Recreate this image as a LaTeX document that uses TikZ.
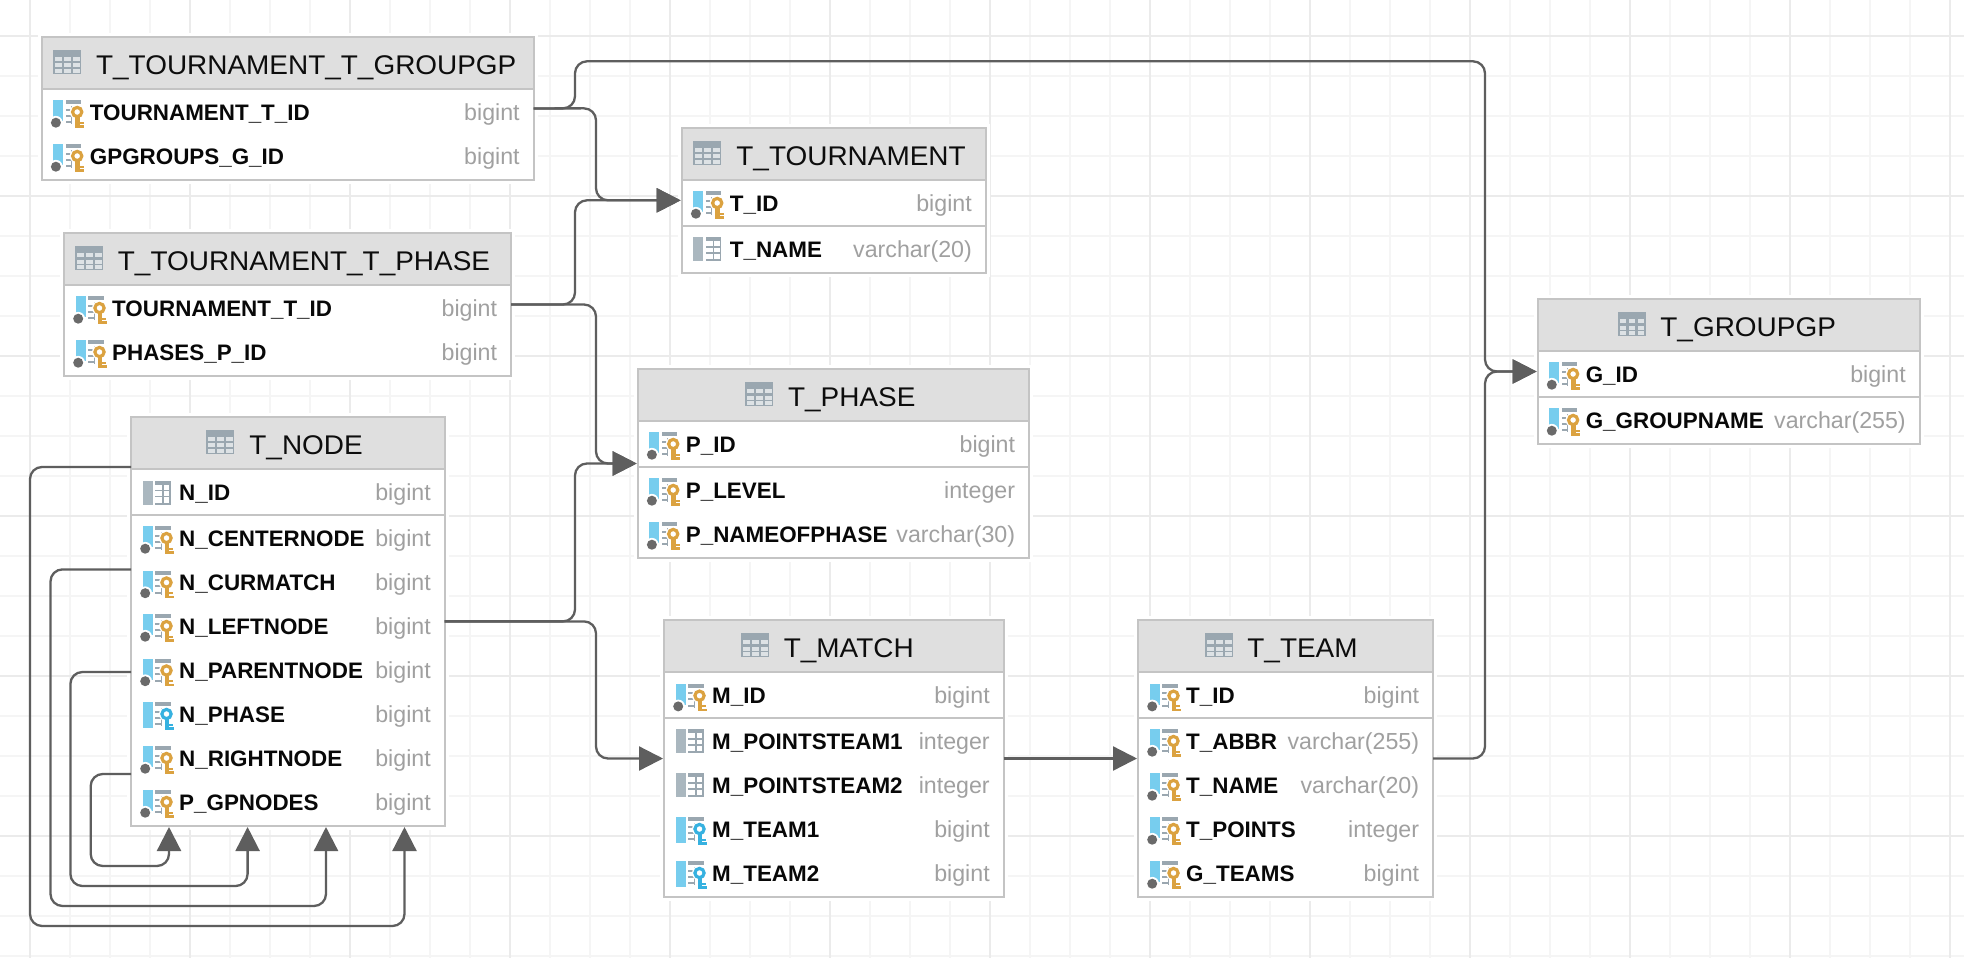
\documentclass[tikz,border=0pt]{standalone}
\usepackage{fontspec}
\setmainfont{Liberation Sans}
\newfontfamily\ttlfont[FakeStretch=1.035]{Liberation Sans}
\usetikzlibrary{fit,arrows.meta}
\definecolor{gridminor}{HTML}{F5F5F5}
\definecolor{gridmajor}{HTML}{EBEBEB}
\definecolor{boxline}{HTML}{C4C4C4}
\definecolor{headfill}{HTML}{DFDFDF}
\definecolor{conncol}{HTML}{5E5E5E}
\definecolor{typecol}{HTML}{A0A0A0}
\definecolor{iconblue}{HTML}{77CDEE}
\definecolor{icongrey}{HTML}{9AA7B0}
\definecolor{cellgrey}{HTML}{DDE2E5}
\definecolor{barGrey}{HTML}{AAB7BF}
\definecolor{keygold}{HTML}{DBA240}
\definecolor{keyblue}{HTML}{36B1E0}
\definecolor{dotcol}{HTML}{6A6A6A}
\tikzset{
  tablebox/.style={draw=boxline,line width=1.1pt,inner sep=0pt,outer sep=0pt},
  sepline/.style={draw=boxline,line width=1.1pt},
  titletext/.style={anchor=base west,inner sep=0pt,font=\ttlfont\fontsize{13.5}{16}\selectfont,text=black!95},
  nametext/.style={anchor=base west,inner sep=0pt,font=\fontsize{11.2}{14}\selectfont\bfseries,text=black!97},
  typetext/.style={anchor=base east,inner sep=0pt,font=\fontsize{11.6}{14}\selectfont,text=typecol},
  conn/.style={draw=conncol,line width=1.15pt,rounded corners=6pt,-{Triangle[length=12pt,width=12pt,fill=conncol]},shorten >=0.5pt},
  pics/tableicon/.style={code={
    \fill[icongrey] (0,-12) rectangle (28,12);
    \foreach \cx in {2,11,20} \foreach \cy in {-5,1.5,7}
      \fill[cellgrey] (\cx,\cy) rectangle ++(6.5,4);
  }},
  pics/keyshape/.style={code={
    \fill[white] (24,0) circle[radius=7.5];
    \fill[white] (20.5,2) rectangle (33,16.5);
    \draw[#1,line width=1.6pt] (24,0) circle[radius=4.6];
    \fill[#1] (22,4) rectangle (26.7,15.5);
    \fill[#1] (26.7,9.5) rectangle (30.5,11.7);
    \fill[#1] (26.7,13) rectangle (31,15.5);
  }},
  pics/listbits/.style={code={
    \fill[icongrey] (12.5,-12) rectangle (28,-8);
    \fill[icongrey] (12.5,-3.5) rectangle (18,-1.5);
    \fill[icongrey] (12.5,2.5) rectangle (18,4.5);
    \fill[icongrey] (12.5,9) rectangle (18,11);
    \fill[icongrey] (18,-6) rectangle (18.8,12);
  }},
  pics/fkgold/.style={code={
    \fill[iconblue] (0,-12) rectangle (10,9);
    \pic {listbits};
    \pic {keyshape=keygold};
    \fill[white] (2.7,10.7) circle[radius=6.8];
    \fill[dotcol] (2.7,10.7) circle[radius=5];
  }},
  pics/fkblue/.style={code={
    \fill[iconblue] (0,-12) rectangle (10,14);
    \pic {listbits};
    \pic {keyshape=keyblue};
  }},
  pics/plaincol/.style={code={
    \fill[barGrey] (0,-12) rectangle (10,12);
    \fill[icongrey] (12.5,-12) rectangle (28,-8);
    \fill[icongrey] (12.5,-3) rectangle (28,-1.5);
    \fill[icongrey] (12.5,3) rectangle (28,4.5);
    \fill[icongrey] (12.5,10) rectangle (28,12);
    \fill[icongrey] (19.5,-8) rectangle (21,12);
    \fill[icongrey] (26.7,-8) rectangle (28,12);
  }}
}
% name, left, top, right, header bottom, bottom
\newcommand\tblbox[6]{%
  \def\bl{#2}\def\br{#4}%
  \fill[white] (#2-4,#3-4) rectangle (#4+4,#6+4);
  \fill[headfill] (#2,#3) rectangle (#4,#5);
  \draw[sepline] (#2,#5) -- (#4,#5);
  \node[tablebox,fit={(#2,#3) (#4,#6)}] (#1) {};
}
% name, icon left, text left, box top, title
\newcommand\tbltitle[5]{%
  \pic at (#2,#4+25) {tableicon};
  \node[titletext] (#1-title) at (#3,#4+37.7) {#5};
}
% box name, row id, icon pic, y, label, type
\newcommand\tblrow[6]{%
  \pic at (\bl+11.5,#4) {#3};
  \node[nametext] (#1-#2-name) at (\bl+47.8,#4+8) {#5};
  \node[typetext] (#1-#2-type) at (\br-13.5,#4+8) {#6};
}
\begin{document}
\begin{tikzpicture}[x=0.5pt,y=-0.5pt]
\useasboundingbox (0,0) rectangle (1964,958);
\fill[white] (0,0) rectangle (1964,958);
% grid
\foreach \k in {0,...,48} \draw[gridminor,line width=1pt] ({30+40*\k},0) -- ({30+40*\k},958);
\foreach \k in {0,...,23} \draw[gridminor,line width=1pt] (0,{36+40*\k}) -- (1964,{36+40*\k});
\foreach \k in {0,...,12} \draw[gridmajor,line width=1.2pt] ({30+160*\k},0) -- ({30+160*\k},958);
\foreach \k in {0,...,5} \draw[gridmajor,line width=1.2pt] (0,{36+160*\k}) -- (1964,{36+160*\k});

% T_TOURNAMENT_T_GROUPGP
\tblbox{ttg}{41.7}{36.7}{533.6}{89}{180.3}
\tbltitle{ttg}{53}{95.7}{36.7}{T\_TOURNAMENT\_T\_GROUPGP}
\tblrow{ttg}{a}{fkgold}{112}{TOURNAMENT\_T\_ID}{bigint}
\tblrow{ttg}{b}{fkgold}{156}{GPGROUPS\_G\_ID}{bigint}

% T_TOURNAMENT_T_PHASE
\tblbox{ttp}{64}{233}{511}{285}{376}
\tbltitle{ttp}{75.4}{117.5}{233}{T\_TOURNAMENT\_T\_PHASE}
\tblrow{ttp}{a}{fkgold}{308}{TOURNAMENT\_T\_ID}{bigint}
\tblrow{ttp}{b}{fkgold}{352}{PHASES\_P\_ID}{bigint}

% T_TOURNAMENT
\tblbox{tour}{681.7}{127.7}{985.7}{180}{273}
\draw[sepline] (681.7,226) -- (985.7,226);
\tbltitle{tour}{693}{736}{127.7}{T\_TOURNAMENT}
\tblrow{tour}{a}{fkgold}{203}{T\_ID}{bigint}
\tblrow{tour}{b}{plaincol}{249}{T\_NAME}{varchar(20)}

% T_PHASE
\tblbox{phase}{637.7}{369}{1029}{421}{558}
\draw[sepline] (637.7,467) -- (1029,467);
\tbltitle{phase}{745}{787.7}{369}{T\_PHASE}
\tblrow{phase}{a}{fkgold}{444}{P\_ID}{bigint}
\tblrow{phase}{b}{fkgold}{490}{P\_LEVEL}{integer}
\tblrow{phase}{c}{fkgold}{534}{P\_NAMEOFPHASE}{varchar(30)}

% T_NODE
\tblbox{tnode}{131}{416.7}{444.7}{468.7}{826}
\draw[sepline] (131,515) -- (444.7,515);
\tbltitle{tnode}{206}{249}{416.7}{T\_NODE}
\tblrow{tnode}{a}{plaincol}{492.5}{N\_ID}{bigint}
\tblrow{tnode}{b}{fkgold}{538}{N\_CENTERNODE}{bigint}
\tblrow{tnode}{c}{fkgold}{582.5}{N\_CURMATCH}{bigint}
\tblrow{tnode}{d}{fkgold}{626}{N\_LEFTNODE}{bigint}
\tblrow{tnode}{e}{fkgold}{670.5}{N\_PARENTNODE}{bigint}
\tblrow{tnode}{f}{fkblue}{714}{N\_PHASE}{bigint}
\tblrow{tnode}{g}{fkgold}{758}{N\_RIGHTNODE}{bigint}
\tblrow{tnode}{h}{fkgold}{802}{P\_GPNODES}{bigint}

% T_MATCH
\tblbox{match}{664}{620}{1003.6}{671.7}{897}
\draw[sepline] (664,717.7) -- (1003.6,717.7);
\tbltitle{match}{741}{783.4}{620}{T\_MATCH}
\tblrow{match}{a}{fkgold}{695.7}{M\_ID}{bigint}
\tblrow{match}{b}{plaincol}{741}{M\_POINTSTEAM1}{integer}
\tblrow{match}{c}{plaincol}{785}{M\_POINTSTEAM2}{integer}
\tblrow{match}{d}{fkblue}{829}{M\_TEAM1}{bigint}
\tblrow{match}{e}{fkblue}{873}{M\_TEAM2}{bigint}

% T_TEAM
\tblbox{team}{1138}{620}{1433}{671.7}{897}
\draw[sepline] (1138,717.7) -- (1433,717.7);
\tbltitle{team}{1205}{1247}{620}{T\_TEAM}
\tblrow{team}{a}{fkgold}{695.7}{T\_ID}{bigint}
\tblrow{team}{b}{fkgold}{741}{T\_ABBR}{varchar(255)}
\tblrow{team}{c}{fkgold}{785}{T\_NAME}{varchar(20)}
\tblrow{team}{d}{fkgold}{829}{T\_POINTS}{integer}
\tblrow{team}{e}{fkgold}{873}{G\_TEAMS}{bigint}

% T_GROUPGP
\tblbox{grp}{1537.6}{299}{1919.6}{351}{444}
\draw[sepline] (1537.6,397) -- (1919.6,397);
\tbltitle{grp}{1617.5}{1660}{299}{T\_GROUPGP}
\tblrow{grp}{a}{fkgold}{374}{G\_ID}{bigint}
\tblrow{grp}{b}{fkgold}{420}{G\_GROUPNAME}{varchar(255)}

% connectors
\draw[conn] (ttg.east) -- (575,108.3) -- (575,61.3) -- (1485,61.3) -- (1485,371.5) -- (grp.west);
\draw[conn] (ttg.east) -- (596,108.3) -- (596,200.3) -- (tour.west);
\draw[conn] (ttp.east) -- (575,304.5) -- (575,200.3) -- (tour.west);
\draw[conn] (ttp.east) -- (596,304.5) -- (596,463.5) -- (phase.west);
\draw[conn] (tnode.east) -- (575,621.4) -- (575,463.5) -- (phase.west);
\draw[conn] (tnode.east) -- (596,621.4) -- (596,758.5) -- (match.west);
\draw[conn] (match.east) -- (team.west);
\draw[conn] (team.east) -- (1485,758.5) -- (1485,371.5) -- (grp.west);
\draw[conn] (tnode.west |- 0,467) -- (30,467) -- (30,926) -- (404.5,926) -- (404.5,0 |- tnode.south);
\draw[conn] (tnode.west |- 0,569.4) -- (50.5,569.4) -- (50.5,906) -- (326,906) -- (326,0 |- tnode.south);
\draw[conn] (tnode.west |- 0,672) -- (70.4,672) -- (70.4,886) -- (247.6,886) -- (247.6,0 |- tnode.south);
\draw[conn] (tnode.west |- 0,774) -- (90.7,774) -- (90.7,866) -- (169,866) -- (169,0 |- tnode.south);
\end{tikzpicture}
\end{document}
